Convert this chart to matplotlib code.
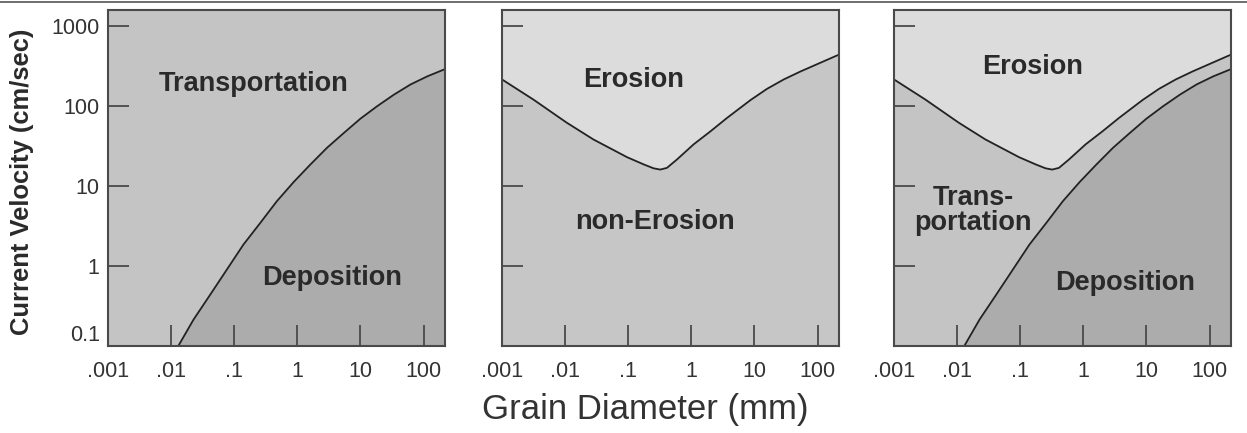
import matplotlib
matplotlib.use('Agg')
import matplotlib.pyplot as plt
from matplotlib.lines import Line2D
from matplotlib.ticker import NullLocator

plt.rcParams['font.family'] = ['Liberation Sans', 'DejaVu Sans']

# deposition curve: grain diameter (mm) vs current velocity (cm/sec)
dep_d = [0.013, 0.0226, 0.0416, 0.0764, 0.140, 0.259, 0.474, 0.877, 1.61,
         2.95, 5.43, 10, 18.4, 33.9, 62.2, 115, 210, 219]
dep_v = [0.1, 0.213, 0.437, 0.90, 1.85, 3.45, 6.44, 11.2, 18.5,
         29.9, 45.7, 69.2, 99, 138, 185, 234, 284, 289]

# erosion curve
ero_d = [0.001, 0.00314, 0.0106, 0.0282, 0.0955, 0.175, 0.252,
         0.322, 0.411, 0.593, 1.09, 2.0, 3.69, 8.65, 15.8, 29.2, 53.7, 219]
ero_v = [214, 120, 61.7, 38, 22.9, 18.6, 16.6,
         16.0, 16.8, 21.4, 33.1, 47.9, 70.8, 118, 163, 214, 269, 437]

x_ticks = [0.001, 0.01, 0.1, 1, 10, 100]
x_labels = ['.001', '.01', '.1', '1', '10', '100']
y_ticks = [0.1, 1, 10, 100, 1000]
y_labels = ['0.1', '1', '10', '100', '1000']

c_ero = '#dcdcdc'
c_trans = '#c4c4c4'
c_non = '#c6c6c6'
c_dep = '#acacac'
edge = '#4a4a4a'
txt = '#2a2a2a'

W, H = 1247, 433
fig = plt.figure(figsize=(W / 100, H / 100), dpi=100)
fig.patch.set_facecolor('white')

lefts = [108, 502, 894]
axes = []
for i, l in enumerate(lefts):
    ax = fig.add_axes([l / W, 1 - 346 / H, 337 / W, 336.5 / H])
    ax.set_xscale('log')
    ax.set_yscale('log')
    ax.set_xlim(0.001, 219)
    ax.set_ylim(0.1, 1600)
    ax.set_xticks(x_ticks, x_labels)
    ax.set_yticks(y_ticks, y_labels)
    ax.xaxis.set_minor_locator(NullLocator())
    ax.yaxis.set_minor_locator(NullLocator())
    ax.tick_params(direction='in', length=15, width=1.3, color=edge,
                   labelsize=15.5, labelcolor='#333333')
    ax.tick_params(axis='x', pad=10.5)
    ax.tick_params(axis='y', pad=6, labelleft=(i == 0))
    for s in ax.spines.values():
        s.set_color(edge)
        s.set_linewidth(1.5)
    axes.append(ax)

# left panel: transportation / deposition
ax = axes[0]
ax.set_facecolor(c_trans)
ax.fill_between(dep_d, 0.01, dep_v, color=c_dep, lw=0)
ax.plot(dep_d, dep_v, color='#222222', lw=1.3)

# middle panel: erosion / non-erosion
ax = axes[1]
ax.set_facecolor(c_ero)
ax.fill_between(ero_d, 0.01, ero_v, color=c_non, lw=0)
ax.plot(ero_d, ero_v, color='#222222', lw=1.3)

# right panel: all three
ax = axes[2]
ax.set_facecolor(c_ero)
ax.fill_between(ero_d, 0.01, ero_v, color=c_trans, lw=0)
ax.fill_between(dep_d, 0.01, dep_v, color=c_dep, lw=0)
ax.plot(ero_d, ero_v, color='#222222', lw=1.3)
ax.plot(dep_d, dep_v, color='#222222', lw=1.3)

axes[0].get_yticklabels()[0].set_verticalalignment('bottom')


def label(x, y, s, **kw):
    fig.text(x / W, 1 - y / H, s, ha='center', va='center', **kw)


region = dict(fontsize=19.5, fontweight='bold', color=txt)
label(254, 84, 'Transportation', **region)
label(332, 278, 'Deposition', **region)
label(634, 80, 'Erosion', **region)
label(655, 222, 'non-Erosion', **region)
label(1033, 67, 'Erosion', **region)
label(973, 210, 'Trans-\nportation', linespacing=0.95, **region)
label(1125, 283, 'Deposition', **region)

label(22, 182, 'Current Velocity (cm/sec)', rotation=90, fontsize=18.4,
      fontweight='bold', color=txt)
label(645, 410, 'Grain Diameter (mm)', fontsize=25, color='#333333')

fig.add_artist(Line2D([0, 1], [1 - 1.5 / H, 1 - 1.5 / H], transform=fig.transFigure,
                      color='#555555', lw=1.2))

fig.savefig('out.png', dpi=100)
